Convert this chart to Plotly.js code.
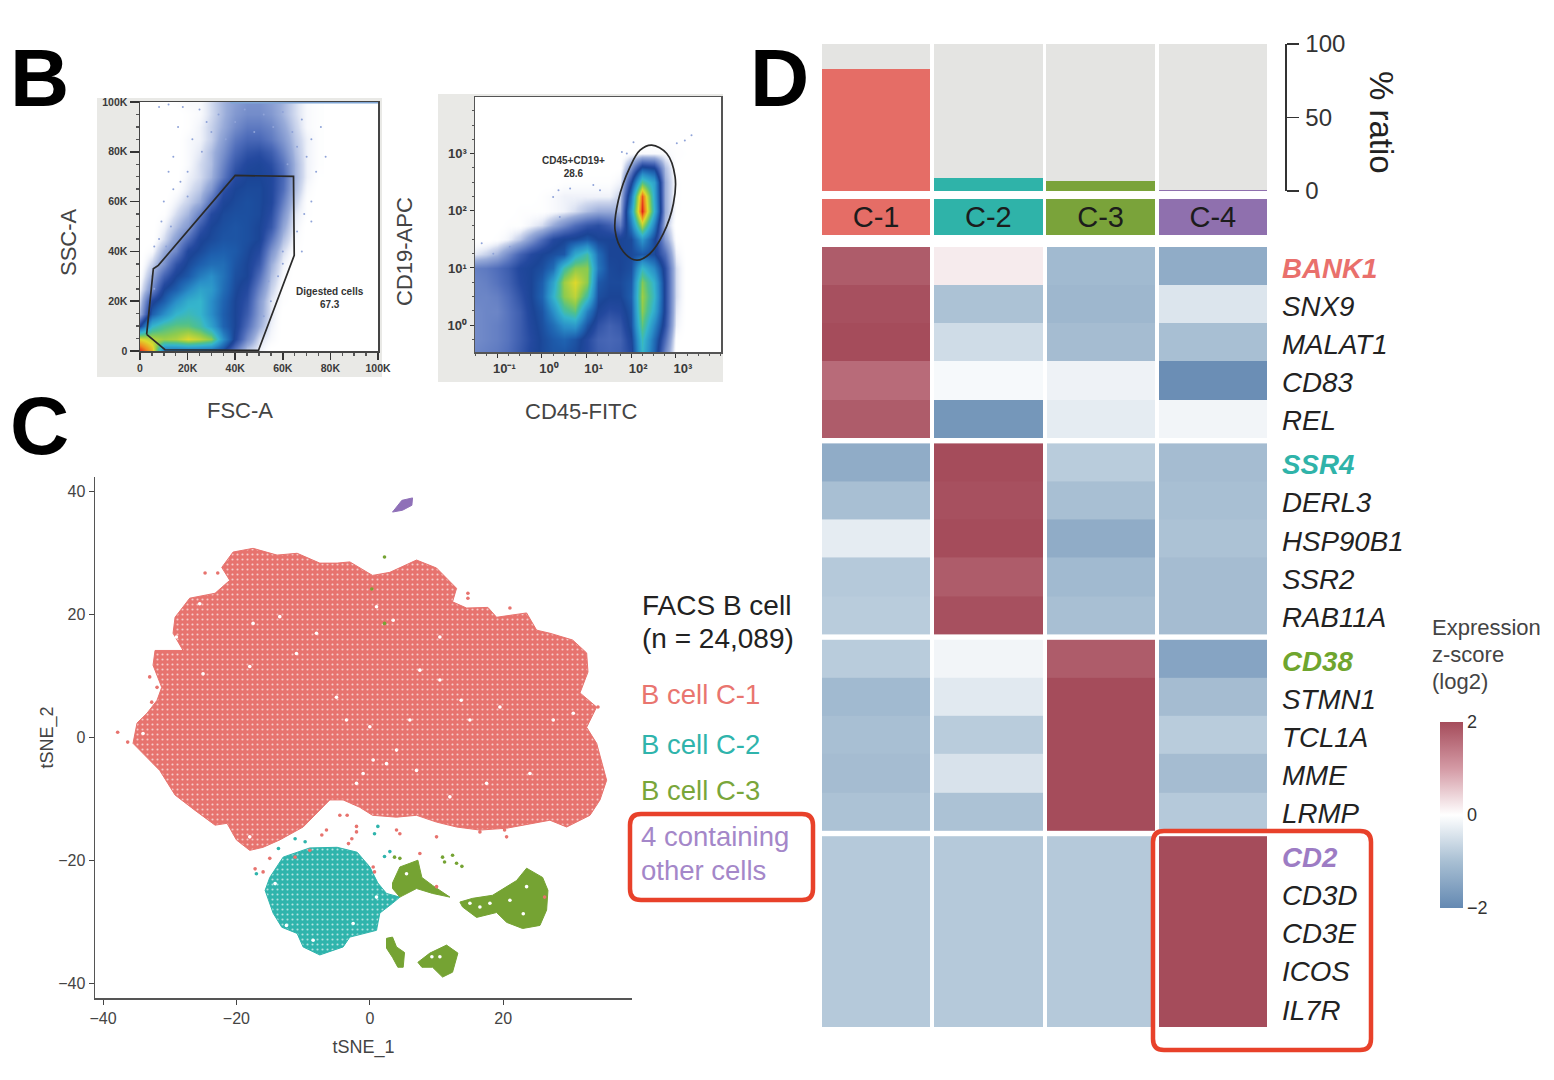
<!DOCTYPE html>
<html><head><meta charset="utf-8">
<script src="https://cdn.plot.ly/plotly-3.0.1.min.js"></script>
<style>html,body{margin:0;padding:0;background:#fff}#chart{width:1554px;height:1080px}</style>
</head><body><div id="chart"></div>
<script>
// ---------- Panel D data ----------
const clusters = ['C-1','C-2','C-3','C-4'];
const clusterColors = ['#e56d66','#2fb3a9','#7aa33a','#8f70ae'];
const ratioValues = [83, 9, 6.5, 0.6];
const ratioRest = [17, 91, 93.5, 99.4];
const genes = ['BANK1','SNX9','MALAT1','CD83','REL','SSR4','DERL3','HSP90B1','SSR2','RAB11A','CD38','STMN1','TCL1A','MME','LRMP','CD2','CD3D','CD3E','ICOS','IL7R'];
const geneColors = {BANK1:'#e9706c',SSR4:'#2fb3a9',CD38:'#6fa52e',CD2:'#9d7cc4'};
const zBlock1 = [[1.8,0.2,-1.1,-1.35],[1.95,-0.95,-1.15,-0.4],[2,-0.55,-1.05,-1],[1.6,-0.1,-0.2,-1.9],[1.8,-1.75,-0.3,-0.15]];
const zBlock2 = [[-1.35,2,-0.8,-1.05],[-1,1.95,-1,-1],[-0.3,2,-1.35,-0.95],[-0.85,1.8,-1.1,-1.05],[-0.8,1.95,-1,-1.05]];
const zBlock3 = [[-0.8,-0.15,1.8,-1.5],[-1.1,-0.35,2,-1.05],[-1,-0.8,2,-0.8],[-1.05,-0.45,2,-1.05],[-0.95,-0.95,2,-0.85]];
const zBlock4 = [[-0.85,-0.85,-0.85,2],[-0.85,-0.85,-0.85,2],[-0.85,-0.85,-0.85,2],[-0.85,-0.85,-0.85,2],[-0.85,-0.85,-0.85,2]];
const rowStarts = [0, 5.147, 10.294, 15.441];

// ---------- Panel B left: density grid (x,y in thousands) ----------
const fscK = [0,5,10,15,20,25,30,35,40,45,50,55,60,65,70,75];
const sscK = [0,5,10,15,20,25,30,35,40,45,50,55,60,65,70,75,80,85,90,95,100];
const densityLeft = [
[10,8.5,3.6,3.5,3.5,3.5,3.5,3,1.7,.6,.3,0,0,0,0,0],
[8,7.5,7.2,7.4,8,7.6,7,4.5,2.8,1.5,.5,.2,0,0,0,0],
[3,5.5,6.2,6.5,6.5,6,5,3.6,3,2,1,.3,0,0,0,0],
[1,3.5,4.5,5.5,5.8,5.5,4.5,3.5,3,2.3,1.2,.4,0,0,0,0],
[.6,2.8,3.5,4.5,5.3,5.5,4.5,3.6,3,2.5,1.3,.4,.1,0,0,0],
[.3,1.5,3,3.5,4.3,5,4.8,3.8,3.1,2.7,1.6,.6,.1,0,0,0],
[.1,1,2.2,3,3.4,4.1,4.5,3.9,3.2,3,2,.8,.2,0,0,0],
[0,.6,1.4,2.5,3.1,3.5,3.8,3.8,3.3,3,2.4,1,.3,0,0,0],
[0,.2,1,1.6,2.8,3.1,3.4,3.5,3.4,3.1,2.7,1.4,.5,.1,0,0],
[0,0,.5,1.2,2,2.9,3.1,3.3,3.3,3.2,3,1.9,.8,.2,0,0],
[0,0,.3,.8,1.3,2.4,3,3.2,3.3,3.2,3,2.4,1.1,.3,0,0],
[0,0,.1,.5,.9,1.7,2.7,3.1,3.2,3.2,3.1,2.6,1.4,.4,.1,0],
[0,0,0,.3,.6,1,2,2.9,3.1,3.2,3.1,2.8,1.7,.6,.1,0],
[0,0,0,.1,.4,.7,1.3,2.5,3,3.1,3.1,2.8,2,.8,.2,0],
[0,0,0,0,.3,.5,.9,1.8,2.7,3,3,2.8,2.1,.9,.3,.05],
[0,0,0,0,.2,.5,.8,1.6,2.4,2.8,2.9,2.6,1.9,.9,.3,.1],
[0,0,0,0,.2,.4,.8,1.4,2.1,2.5,2.6,2.3,1.6,.8,.3,.1],
[0,0,0,0,.2,.3,.6,1.2,1.8,2.1,2.1,1.8,1.3,.7,.3,.1],
[0,0,0,0,.1,.3,.6,1,1.5,1.8,1.8,1.6,1.1,.6,.2,.1],
[0,0,0,0,.1,.2,.5,.9,1.3,1.5,1.5,1.3,.9,.5,.2,.1],
[0,0,0,.1,.2,.2,.5,.9,1.2,1.4,1.4,1.2,.9,.5,.2,.1]];
const gateLeftX = [2.8,5.6,7.7,40,64.5,64.8,49.8,10.5,2.8];
const gateLeftY = [6.7,33,34.4,70.5,70.1,38.4,0.3,0.5,6.7];
const speckLeftX = [8,12,18,25,16,22,28,33,14,20,26,30,36,40,44,48,52,56,60,64,68,72,76,70,74,66,62,78,72,69,66,72,60,10,13,8,6,14,17,12,20,9,11,5,6,54,58,55,52,60,68];
const speckLeftY = [98,99,98,97,90,85,92,95,78,72,80,88,85,92,97,88,95,90,96,88,93,85,90,78,72,82,75,78,60,55,48,52,40,60,50,45,42,65,68,72,62,52,42,30,25,28,30,20,14,35,40];
const topLineX = [38,100];
const topLineY = [99.7,99.7];

// ---------- Panel B right: density grid (decades) ----------
const cd45Log = [-1.5,-1.25,-1,-.75,-.5,-.25,0,.25,.5,.75,1,1.25,1.5,1.75,2,2.25,2.5,2.75,3,3.25];
const cd19Log = [-.5,-.25,0,.25,.5,.75,1,1.25,1.5,1.75,2,2.25,2.5,2.75,3,3.25];
const densityRight = [
[1.6,1.7,1.8,2,2.4,2.8,3.1,3.3,3.3,3.1,2.7,2.3,2.2,2.3,2.7,5.5,3.6,1.5,0,0],
[1.5,1.6,1.7,1.9,2.3,2.7,3.1,3.4,3.6,3.3,2.7,2.2,2.1,2.2,2.9,5.8,3.8,2,.1,0],
[1.5,1.6,1.7,1.9,2.3,2.8,3.2,3.8,4.6,4.8,3.3,2.5,2.2,2.4,3.2,6.5,4.4,2.5,.3,0],
[1.5,1.6,1.6,1.9,2.3,2.9,3.3,4.5,6,6.5,4.2,2.9,2.6,2.7,3.3,7,5.2,2.7,.4,0],
[1.6,1.6,1.7,2,2.5,3,3.6,5.4,7,7.6,6,3.2,3,3,3.5,7.2,5.6,2.7,.5,0],
[1.6,1.7,1.9,2.2,2.7,3,3.5,5,7.2,8,7,3.4,3.1,3.1,3.4,6.9,5.4,2.7,.5,0],
[1.7,1.8,2,2.3,2.8,3,3.2,3.8,6,7,7,4,3.1,3,3.2,5.6,4.4,2.6,.5,0],
[.4,.6,.9,1.5,2.2,2.7,3,3.2,3.4,5.2,6,3.8,3,3,3.1,3.4,3.1,2,.3,0],
[0,0,.1,.3,.7,1.3,2,2.7,3,3.1,3.4,3,3,3,3.1,4.7,3.1,1.2,.1,0],
[0,0,0,.1,.1,.3,.5,1,1.5,2,2.4,2.6,2.3,1.7,4,7.5,4.2,.8,0,0],
[0,0,0,0,.1,.1,.1,.2,.3,.5,.8,1,1,.9,4.8,10,5.5,1,.1,0],
[0,0,0,0,0,0,.1,.2,.3,.3,.3,.3,.3,.6,4,9.5,5.2,1,.1,0],
[0,0,0,0,0,0,0,0,.1,.1,.1,.1,.1,.3,2.8,6.3,5,1,.1,0],
[0,0,0,0,0,0,0,0,0,0,0,0,0,.05,1.4,3.3,3,.8,.05,0],
[0,0,0,0,0,0,0,0,0,0,0,0,0,0,.1,.2,.2,.2,.1,.05],
[0,0,0,0,0,0,0,0,0,0,0,0,0,0,0,0,.02,.05,.05,.02]];
const gateRightX = [2.459,2.795,2.982,2.945,2.72,2.422,2.123,1.824,1.637,1.711,1.973,2.197,2.459];
const gateRightY = [3.147,3.001,2.593,2.127,1.603,1.253,1.136,1.282,1.661,2.185,2.768,3.059,3.147];
const speckRightX = [.25,.37,.63,.4,1.15,1.3,2.05,3.02,3.2,3.35,1.9,1.79,-1.35,-1.09,-.72];
const speckRightY = [2.24,2.36,2.39,1.89,2.45,2.36,3.2,3.18,3.23,3.32,3,3.03,1.43,1.25,1.37];

// ---------- Panel C: tSNE regions and stray cells ----------
const redX = [-35.5,-34.9,-33.4,-31.9,-31.2,-32.5,-32.2,-30,-28,-29.5,-29.2,-27,-23.2,-21,-22.2,-20.5,-17.5,-13.9,-10.9,-7.5,-4.9,-3,.4,3,7,10,13,12.4,14.5,17.7,19,23.5,25,27,30.4,32.5,32.7,31.5,34,32.5,34,35.5,34.5,33,29.5,27,25.5,20.5,16.5,13,10,7,4,.4,-1.5,-4,-6,-7.5,-10,-13.5,-16,-18,-20,-21.4,-23.2,-26.2,-29.2,-31.5,-33.7,-35.5];
const redY = [-1,2.3,3.9,6,8.1,11.7,14.1,14.1,14.1,16.9,19.5,22.6,23.4,25.5,27.6,30.1,30.7,29.6,29.9,28.3,28.3,28.5,26.3,26.8,28.8,27.5,24.2,22,21,21.1,19.5,20.2,17.4,16.9,15.8,13.7,10.6,7.2,4.9,1.6,-1,-7,-10.2,-12.7,-14.6,-13.5,-13.8,-14.8,-15.1,-14.6,-13.8,-12.7,-13,-12.7,-11.4,-10.2,-10.2,-11.9,-14.6,-16.7,-17.9,-18.4,-16.7,-14,-14.3,-11.9,-9.4,-5.4,-2.9,-1];
const tealX = [-15.7,-15,-13,-9,-4.9,-1.9,0,1.2,2.5,4.5,3.4,1.5,1,-3,-4,-7.5,-10,-10.9,-13.2,-14.5,-15.7];
const tealY = [-24.9,-22.8,-19.5,-18,-17.9,-18.7,-21.1,-23.7,-25.4,-26,-27,-28.6,-31.4,-32.5,-34.1,-35.4,-34.1,-31.9,-30.9,-28.6,-24.9];
const greenX = [3.4,4.5,6,7.2,7.8,9.4,12,9.4,7,4.5,3.4,3.4,null,13.5,15.4,18.4,20,22,23.5,25.9,26.7,26.5,25.5,22.9,20.5,19,16,13.9,13.5,null,2.5,3.4,4,5.2,5,4.2,3.4,2.5,2.5,null,7.2,9,11.5,13.2,12.4,10.9,9.4,7.8,7.2];
const greenY = [-23.7,-21.1,-20.5,-20,-22.8,-24.1,-26,-25.4,-24.6,-26,-24.6,-23.7,null,-26.8,-26.2,-25.7,-24.6,-23.3,-21.3,-22.8,-24.9,-28.1,-30.6,-31.1,-30.1,-28.5,-29.3,-27.6,-26.8,null,-32.7,-32.5,-34.1,-35,-37.4,-37.4,-35.8,-34.3,-32.7,null,-36.6,-35.1,-33.8,-35.1,-38.2,-39,-37.4,-37.4,-36.6];
const purpleX = [3.4,4.8,6.4,6.3,4.9,3.4];
const purpleY = [36.6,38.5,38.9,37.7,36.9,36.6];
const strayRedX = [-4.5,-3.4,-6.5,-7.2,-2,-2,-2.7,-3.2,-9,-11.2,-15,-17.2,-16,.5,.7,7.5,10,10,4,4.5,20.2,20.5,16.5,26.2,-24.7,-22.8,-33,-31.9,-32.7,-37.8,-36.3,14.7,14.7,21,34.2];
const strayRedY = [-12.7,-12.7,-15.1,-15.9,-14.5,-15.4,-16.5,-17.3,-18.4,-19.5,-19.7,-21.4,-21.9,-21.1,-21.9,-18.9,-24.3,-16.2,-15.1,-15.7,-15.1,-16.2,-15.4,-26,26.7,26.7,9.8,8.1,5.7,.8,-.8,23.4,22.6,21,4.9];
const strayTealX = [1.2,.7,-11.2,-9.7,-13.7,-17,2.2,3];
const strayTealY = [-14.5,-15.7,-16.5,-17,-18.1,-22.2,-19.4,-18.6];
const strayGreenX = [10.9,11.2,12.4,13,13.8,3.7,4.5,2.2,.3,2.2];
const strayGreenY = [-19.5,-20.3,-19.2,-20.5,-21,-19.5,-19.7,29.3,24.1,18.5];
const gapX = [.5,4,2.5,-1,12,17.5,24,7,-18,-2,23,21,23.5,18,16.5,15,5.5,10.5,9.3,-14.2,-2.5,-12.5,-8.5,1,10.5,1,3.5,30.5,27.5,13.7,15,6,0,7.5,19.5,10.5,-5,-8,-13.5,-17.5,-25.5,-29,-34,-3.5,-18,-25,-11];
const gapY = [-3.7,-2.1,-4.3,-5.9,-9.7,-7.5,-5.9,-5.4,-16.2,-7.5,-28.7,-26.5,-24.3,-27,-27.6,-27,-22.2,-35.7,-35.7,-23.8,-30.3,-30.6,-33,-26,16.3,21.2,19,3.9,2.8,6,2.8,2.8,1.7,10.9,4.9,9.3,6.5,16.9,19.6,18.5,21.7,16.3,.6,2.8,11.5,10.3,13.6];

// ---------- helpers ----------
const W=1554,H=1080;
const fx=p=>p/W, fy=p=>1-p/H;
const domX=(a,b)=>[a/W,b/W], domY=(top,bot)=>[1-bot/H,1-top/H];
const F='"Liberation Sans", Arial, sans-serif';
const flowScale=[[0,'rgba(255,255,255,0)'],[.05,'#d3dbef'],[.1,'#98abd9'],[.2,'#4f6dba'],[.27,'#24499f'],[.3,'#1b4596'],[.35,'#1e5fae'],[.45,'#2a8fc8'],[.55,'#35b5cc'],[.63,'#4fc08e'],[.7,'#8ccb4f'],[.8,'#dfd92c'],[.9,'#f08a20'],[1,'#e2231a']];
const heatScale=[[0,'#6489b2'],[.25,'#a8bfd3'],[.5,'#ffffff'],[.75,'#d49aa5'],[1,'#a54c5b']];
const rrect=(x0,y0,x1,y1,r)=>({type:'path',xref:'paper',yref:'paper',line:{color:'#e8412a',width:4.5},
 path:`M${fx(x0+r)},${fy(y0)} L${fx(x1-r)},${fy(y0)} Q${fx(x1)},${fy(y0)} ${fx(x1)},${fy(y0+r)} L${fx(x1)},${fy(y1-r)} Q${fx(x1)},${fy(y1)} ${fx(x1-r)},${fy(y1)} L${fx(x0+r)},${fy(y1)} Q${fx(x0)},${fy(y1)} ${fx(x0)},${fy(y1-r)} L${fx(x0)},${fy(y0+r)} Q${fx(x0)},${fy(y0)} ${fx(x0+r)},${fy(y0)} Z`});
const box=(x0,y0,x1,y1,c)=>({type:'rect',layer:'below',xref:'paper',yref:'paper',x0:fx(x0),x1:fx(x1),y0:fy(y1),y1:fy(y0),fillcolor:c,line:{width:0}});
const note=(text,x,y,size,color,extra)=>Object.assign({text,x:fx(x),y:fy(y),xref:'paper',yref:'paper',showarrow:false,xanchor:'left',yanchor:'middle',align:'left',font:{family:F,size,color}},extra||{});

// ---------- traces ----------
const traces=[];
traces.push({type:'heatmap',x:fscK,y:sscK,z:densityLeft,zmin:0,zmax:10,zsmooth:'best',colorscale:flowScale,showscale:false,xaxis:'x',yaxis:'y',hoverinfo:'skip'});
traces.push({type:'scatter',mode:'markers',x:speckLeftX,y:speckLeftY,marker:{color:'#8fa3d8',size:2},xaxis:'x',yaxis:'y',showlegend:false});
traces.push({type:'scatter',mode:'lines',x:topLineX,y:topLineY,line:{color:'#7fa6d6',width:1.5},xaxis:'x',yaxis:'y',showlegend:false});
traces.push({type:'scatter',mode:'lines',x:gateLeftX,y:gateLeftY,line:{color:'#2a2a2a',width:1.7},xaxis:'x',yaxis:'y',showlegend:false});
traces.push({type:'heatmap',x:cd45Log,y:cd19Log,z:densityRight,zmin:0,zmax:10,zsmooth:'best',colorscale:flowScale,showscale:false,xaxis:'x2',yaxis:'y2',hoverinfo:'skip'});
traces.push({type:'scatter',mode:'markers',x:speckRightX,y:speckRightY,marker:{color:'#8fa3d8',size:2},xaxis:'x2',yaxis:'y2',showlegend:false});
traces.push({type:'scatter',mode:'lines',x:gateRightX,y:gateRightY,line:{color:'#2a2a2a',width:1.7,shape:'spline'},xaxis:'x2',yaxis:'y2',showlegend:false});
const region=(x,y,c,size,sol)=>{const t={type:'scatter',mode:'lines',x,y,fill:'toself',fillcolor:c,line:{color:c,width:1},xaxis:'x3',yaxis:'y3',showlegend:false};if(size)t.fillpattern={shape:'.',fgcolor:'rgba(255,255,255,.65)',bgcolor:c,size,solidity:sol};return t;};
traces.push(region(redX,redY,'#e7736e',5,.14));
traces.push(region(tealX,tealY,'#2fb4ac',5,.14));
traces.push(region(greenX,greenY,'#75a333',0));
traces.push(region(purpleX,purpleY,'#8f70b8',0));
const stray=(x,y,c,s)=>({type:'scatter',mode:'markers',x,y,marker:{color:c,size:s||3.6},xaxis:'x3',yaxis:'y3',showlegend:false});
traces.push(stray(gapX,gapY,'#ffffff',3.6));
traces.push(stray(strayRedX,strayRedY,'#e7736e'));
traces.push(stray(strayTealX,strayTealY,'#2fb4ac'));
traces.push(stray(strayGreenX,strayGreenY,'#75a333'));
const colIdx=[0,1,2,3];
traces.push({type:'bar',x:colIdx,y:ratioValues,width:.965,marker:{color:clusterColors,line:{width:0}},xaxis:'x4',yaxis:'y4',showlegend:false});
traces.push({type:'bar',x:colIdx,y:ratioRest,width:.965,marker:{color:'#e4e4e2',line:{width:0}},xaxis:'x4',yaxis:'y4',showlegend:false});
traces.push({type:'bar',x:colIdx,y:[1,1,1,1],width:.965,text:clusters,textposition:'inside',insidetextanchor:'middle',textangle:0,constraintext:'none',textfont:{family:F,size:29,color:'#1c1c1c'},marker:{color:clusterColors,line:{width:0}},xaxis:'x5',yaxis:'y5',showlegend:false});
[zBlock1,zBlock2,zBlock3,zBlock4].forEach((z,i)=>{
  traces.push({type:'heatmap',x:colIdx,y:[0,1,2,3,4].map(k=>k+rowStarts[i]),z,coloraxis:'coloraxis',xgap:4,xaxis:'x6',yaxis:'y6',hoverinfo:'skip'});
});

const geneTicks=[];rowStarts.forEach(s=>[0,1,2,3,4].forEach(k=>geneTicks.push(k+s)));
const geneText=genes.map(g=>geneColors[g]?`<b><i><span style="color:${geneColors[g]}">${g}</span></i></b>`:`<i>${g}</i>`);

const flowTick={family:F,size:10.5,color:'#3a3a3a',weight:700};
const flowTick2={family:F,size:13,color:'#3a3a3a',weight:700};
const hidden={visible:false,fixedrange:true};
const big={family:F,size:82,color:'#000',weight:700};
const layout={width:W,height:H,margin:{l:0,r:0,t:0,b:0},paper_bgcolor:'#ffffff',plot_bgcolor:'rgba(0,0,0,0)',barmode:'stack',bargap:0,showlegend:false,
 font:{family:F},
 coloraxis:{cmin:-2,cmax:2,colorscale:heatScale,colorbar:{x:fx(1440),xanchor:'left',xpad:0,y:fy(722),yanchor:'top',ypad:0,len:186,lenmode:'pixels',thickness:23,thicknessmode:'pixels',outlinewidth:0,tickvals:[-2,0,2],ticklen:0,tickfont:{family:F,size:18,color:'#333'}}},
 xaxis:{domain:domX(140,378),range:[0,100],tickvals:[0,20,40,60,80,100],ticktext:['0','20K','40K','60K','80K','100K'],ticks:'outside',ticklen:7,tickwidth:1.5,tickcolor:'#333',tickfont:flowTick,showgrid:false,zeroline:false,showline:true,mirror:true,linecolor:'#444',linewidth:1.5,minor:{ticks:'outside',ticklen:3,dtick:5,tickcolor:'#555',showgrid:false},anchor:'y'},
 yaxis:{domain:domY(102,351),range:[0,100],tickvals:[0,20,40,60,80,100],ticktext:['0','20K','40K','60K','80K','100K'],ticks:'outside',ticklen:9,tickwidth:1.5,tickcolor:'#333',tickfont:flowTick,showgrid:false,zeroline:false,showline:true,mirror:true,linecolor:'#444',linewidth:1.5,minor:{ticks:'outside',ticklen:3,dtick:5,tickcolor:'#555',showgrid:false},anchor:'x'},
 xaxis2:{domain:domX(475,721),range:[-1.5,4.01],tickvals:[-1,0,1,2,3],ticktext:['10⁻¹','10⁰','10¹','10²','10³'],ticklabelshift:7,ticks:'outside',ticklen:4,tickcolor:'#333',tickfont:flowTick2,showgrid:false,zeroline:false,showline:true,mirror:true,linecolor:'#555',linewidth:1.5,minor:{ticks:'outside',ticklen:2,dtick:.25,tickcolor:'#555',showgrid:false},anchor:'y2'},
 yaxis2:{domain:domY(97,352),range:[-.47,3.99],tickvals:[0,1,2,3],ticktext:['10⁰','10¹','10²','10³'],ticks:'outside',ticklen:4,tickcolor:'#333',tickfont:flowTick2,showgrid:false,zeroline:false,showline:true,mirror:true,linecolor:'#555',linewidth:1.5,minor:{ticks:'outside',ticklen:2,dtick:.25,tickcolor:'#555',showgrid:false},anchor:'x2'},
 xaxis3:{domain:domX(95,632),range:[-41.2,39.3],tickvals:[-40,-20,0,20],ticks:'outside',ticklen:5,tickcolor:'#444',tickfont:{family:F,size:16,color:'#444'},showgrid:false,zeroline:false,showline:true,linecolor:'#555',linewidth:1.5,anchor:'y3',title:{text:'tSNE_1',font:{family:F,size:18,color:'#444'},standoff:14}},
 yaxis3:{domain:domY(477,998),range:[-42.4,42.3],tickvals:[-40,-20,0,20,40],ticks:'outside',ticklen:5,tickcolor:'#444',tickfont:{family:F,size:16,color:'#444'},showgrid:false,zeroline:false,showline:true,linecolor:'#555',linewidth:1.5,anchor:'x3',title:{text:'tSNE_2',font:{family:F,size:18,color:'#444'},standoff:0}},
 xaxis4:Object.assign({domain:domX(820,1269),range:[-.5,3.5],anchor:'y4'},hidden),
 yaxis4:{domain:domY(44,191),range:[0,100],anchor:'free',position:fx(1285),side:'right',tickvals:[0,50,100],ticks:'outside',ticklen:12,tickcolor:'#333',tickwidth:1.5,ticklabelstandoff:2,tickfont:{family:F,size:24,color:'#333'},showgrid:false,zeroline:false,showline:true,linecolor:'#333',linewidth:1.5},
 xaxis5:Object.assign({domain:domX(820,1269),range:[-.5,3.5],anchor:'y5'},hidden),
 yaxis5:Object.assign({domain:domY(199,235),range:[0,1],anchor:'x5'},hidden),
 xaxis6:Object.assign({domain:domX(820,1269),range:[-.5,3.5],anchor:'y6'},hidden),
 yaxis6:{domain:domY(247,1027),range:[19.941,-.5],anchor:'x6',side:'right',tickvals:geneTicks,ticktext:geneText,ticks:'',ticklabelstandoff:12,ticklabelshift:-2,tickfont:{family:F,size:27.7,color:'#222'},showgrid:false,zeroline:false,showline:false},
 shapes:[box(97,98,382,377,'#e9e9e6'),box(140,102,378,351,'#ffffff'),box(438,94,723,382,'#e9e9e6'),box(475,97,721,352,'#ffffff'),rrect(630,814,813,900,11),rrect(1153,831,1371,1050,11)],
 annotations:[
  note('B',8,78,82,'#000',{font:big}),
  note('C',8,425,82,'#000',{font:big}),
  note('D',748,78,82,'#000',{font:big}),
  note('Digested cells<br>67.3',330,298,10,'#333',{xanchor:'center',align:'center',font:{family:F,size:10,color:'#333',weight:700}}),
  note('CD45+CD19+<br>28.6',573,167,10,'#333',{xanchor:'center',align:'center',font:{family:F,size:10,color:'#333',weight:700}}),
  note('FSC-A',240,410,22,'#444',{xanchor:'center'}),
  note('SSC-A',68,242,22,'#444',{xanchor:'center',textangle:-90}),
  note('CD45-FITC',581,411,22,'#444',{xanchor:'center'}),
  note('CD19-APC',404,252,22,'#444',{xanchor:'center',textangle:-90}),
  note('% ratio',1381,122,33,'#222',{xanchor:'center',textangle:90}),
  note('FACS B cell',640,605,28,'#222'),
  note('(n = 24,089)',640,638,28,'#222'),
  note('B cell C-1',639,694,27.5,'#e9756f'),
  note('B cell C-2',639,744,27.5,'#2fb4ac'),
  note('B cell C-3',639,790,27.5,'#79a63a'),
  note('4 containing',639,836,27.5,'#a487c9'),
  note('other cells',639,870,27.5,'#a487c9'),
  note('Expression',1430,627,22,'#444'),
  note('z-score',1430,654,22,'#444'),
  note('(log2)',1430,681,22,'#444')
 ]};
Plotly.newPlot('chart',traces,layout,{displayModeBar:false,staticPlot:true});
</script></body></html>
